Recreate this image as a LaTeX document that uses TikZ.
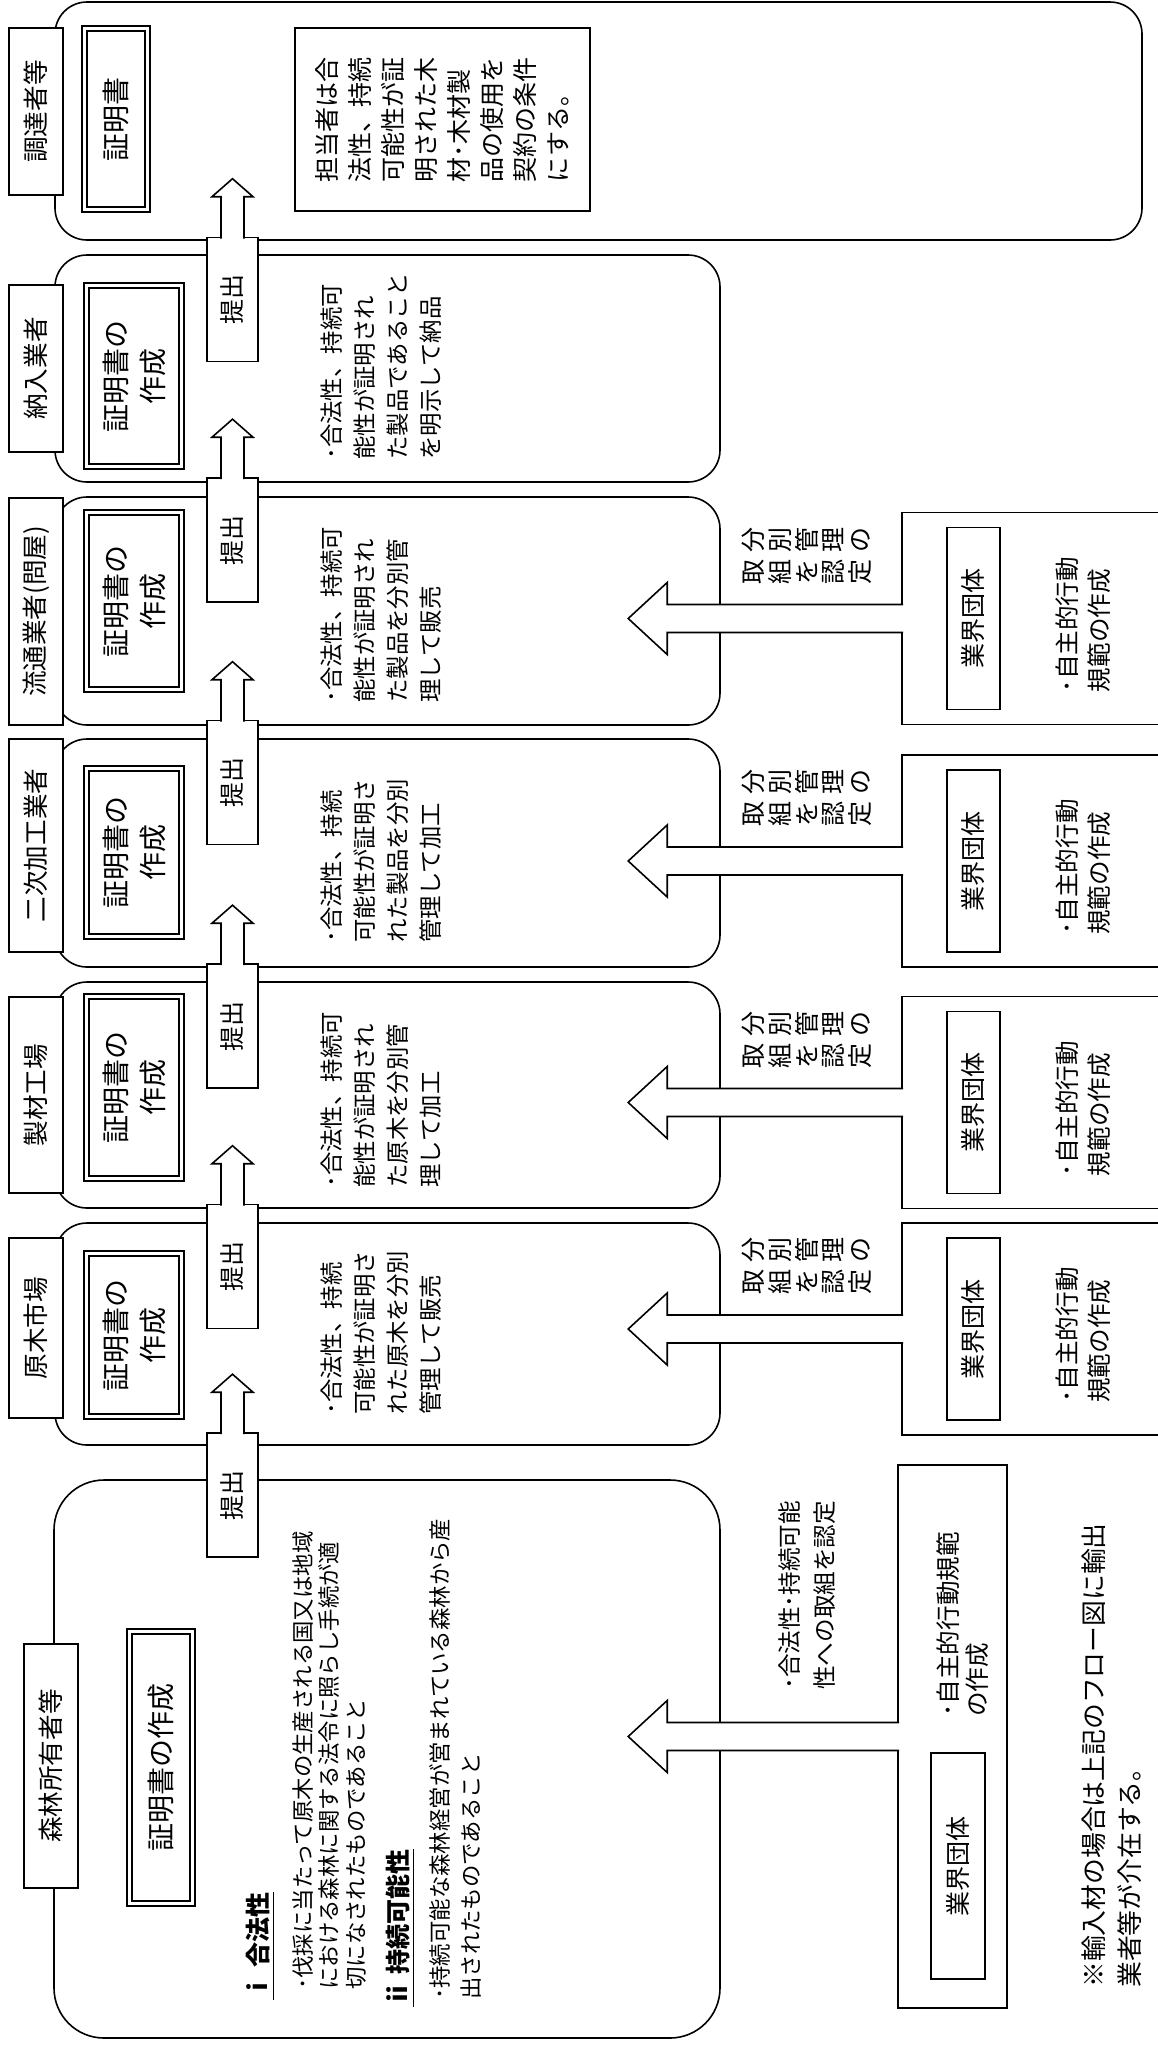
\documentclass[tikz,border=0pt]{standalone}
\usepackage{fontspec}
\setmainfont{Noto Sans CJK JP}
\usetikzlibrary{calc}
\newcommand{\fsz}[2]{\fontsize{#1}{#2}\selectfont}
\tikzset{
  rowbox/.style={draw, line width=0.8pt, rounded corners=16pt, inner sep=0pt},
  namebox/.style={draw, fill=white, line width=0.8pt, rotate=90, inner sep=0pt,
    minimum height=27pt, font=\fsz{12.8}{15}},
  certbox/.style={draw, fill=white, double, double distance=1.8pt, line width=0.9pt, rotate=90,
    inner sep=0pt, align=center, minimum height=47.5pt, font=\fsz{14}{18.5}},
  submitbox/.style={draw, fill=white, line width=0.8pt, rotate=90, inner sep=0pt,
    minimum width=62pt, minimum height=25.5pt, font=\fsz{12.5}{15}},
  grpframe/.style={draw, line width=0.8pt, inner sep=0pt},
  grpbox/.style={draw, fill=white, line width=0.8pt, rotate=90, inner sep=0pt,
    minimum width=91pt, minimum height=26.5pt, font=\fsz{12.5}{15}},
  vtext/.style={rotate=90, anchor=north west, align=left, inner sep=0pt},
  vchar/.style={rotate=90, inner sep=0pt, font=\fsz{12.5}{15}, text height=0.88em, text depth=0.12em},
  blockarrow/.style={draw, fill=white, line width=0.8pt, line join=miter},
}
\begin{document}
\begin{tikzpicture}[x=0.5pt, y=-0.5pt]
  \useasboundingbox (0,0) rectangle (1157,2046);

  % stages
  \node[rowbox, minimum width=543.5pt, minimum height=119pt] (r-chotatsu) at (598.5,121) {};
  \node[rowbox, minimum width=332.5pt, minimum height=113.5pt] (r-nonyu) at (387.5,368.5) {};
  \node[rowbox, minimum width=332.5pt, minimum height=114pt] (r-ryutsu) at (387.5,611) {};
  \node[rowbox, minimum width=332.5pt, minimum height=114pt] (r-niji) at (387.5,853) {};
  \node[rowbox, minimum width=332.5pt, minimum height=113pt] (r-seizai) at (387.5,1095) {};
  \node[rowbox, minimum width=332.5pt, minimum height=111pt] (r-genboku) at (387.5,1334) {};
  \node[rowbox, rounded corners=25pt, minimum width=333pt, minimum height=279pt] (r-shinrin) at (387,1759) {};

  % industry groups
  \node[grpframe, minimum width=135pt, minimum height=106pt] (g-ryutsu) at (1037,618.5) {};
  \node[grpframe, minimum width=135pt, minimum height=106pt] (g-niji) at (1037,861) {};
  \node[grpframe, minimum width=135pt, minimum height=106pt] (g-seizai) at (1037,1102.5) {};
  \node[grpframe, minimum width=135pt, minimum height=106pt] (g-genboku) at (1037,1329) {};
  \node[grpframe, minimum width=54.5pt, minimum height=271.5pt] (g-shinrin) at (952.5,1736.5) {};

  \node[grpbox] (k-ryutsu) at (973.5,618.5) {業界団体};
  \node[grpbox] (k-niji) at (973.5,861) {業界団体};
  \node[grpbox] (k-seizai) at (973.5,1102.5) {業界団体};
  \node[grpbox] (k-genboku) at (973.5,1329) {業界団体};
  \node[grpbox, minimum width=113pt, minimum height=27pt] (k-shinrin) at (958,1866) {業界団体};

  % stage names
  \node[namebox, minimum width=83.5pt] (l-chotatsu) at (36,111.5) {調達者等};
  \node[namebox, minimum width=83.5pt] (l-nonyu) at (36,368.5) {納入業者};
  \node[namebox, minimum width=113.5pt] (l-ryutsu) at (36,611.5) {流通業者(問屋)};
  \node[namebox, minimum width=106.5pt] (l-niji) at (36,845.5) {二次加工業者};
  \node[namebox, minimum width=98pt] (l-seizai) at (36,1095) {製材工場};
  \node[namebox, minimum width=90pt] (l-genboku) at (36,1328) {原木市場};
  \node[namebox, minimum width=122pt] (l-shinrin) at (51,1766) {森林所有者等};

  % certificates
  \node[certbox, minimum width=90.5pt, minimum height=31.5pt] (c-chotatsu) at (116,119) {証明書};
  \node[certbox, minimum width=90.5pt] (c-nonyu) at (134,376) {証明書の\\作成};
  \node[certbox, minimum width=88.5pt] (c-ryutsu) at (134,601) {証明書の\\作成};
  \node[certbox, minimum width=84pt] (c-niji) at (134,852.5) {証明書の\\作成};
  \node[certbox, minimum width=91pt] (c-seizai) at (134,1087.5) {証明書の\\作成};
  \node[certbox, minimum width=81.5pt] (c-genboku) at (134,1335) {証明書の\\作成};
  \node[certbox, minimum width=136pt, minimum height=31.5pt] (c-shinrin) at (161,1767.5) {証明書の作成};

  \node[draw, fill=white, line width=0.8pt, rotate=90, inner sep=0pt, minimum width=91.5pt,
    minimum height=147.5pt, align=left, font=\fsz{12.5}{16.5}] (memo) at (442.5,119.5)
    {担当者は合\\法性、持続\\可能性が証\\明された木\\材･木材製\\品の使用を\\契約の条件\\にする。};

  % submission
  \node[submitbox] (t-nonyu) at (232.5,299.5) {提出};
  \node[submitbox] (t-ryutsu) at (232.5,540) {提出};
  \node[submitbox] (t-niji) at (232.5,782.5) {提出};
  \node[submitbox] (t-seizai) at (232.5,1026) {提出};
  \node[submitbox] (t-genboku) at (232.5,1266.5) {提出};
  \node[submitbox] (t-shinrin) at (232.5,1495) {提出};

  \foreach \t in {t-nonyu,t-ryutsu,t-niji,t-seizai,t-genboku,t-shinrin}
    \draw[blockarrow] ([shift={(-5.75pt,-1pt)}]\t.east) -- ++(0,-42) -- ++(-9,0) -- ++(20.5,-18)
      -- ++(20.5,18) -- ++(-9,0) -- ++(0,42);

  \foreach \g/\len in {g-ryutsu/236,g-niji/236,g-seizai/236,g-genboku/236,g-shinrin/232}
    \draw[blockarrow] ([shift={(1pt,7pt)}]\g.west) -- ++(-\len,0) -- ++(0,-22) -- ++(-39,36)
      -- ++(39,36) -- ++(0,-22) -- ++(\len,0);

  % texts
  \node[vtext, font=\fsz{11.7}{16.5}] (x-nonyu) at (320,460)
    {･合法性、持続可\\能性が証明され\\た製品であること\\を明示して納品};
  \node[vtext, font=\fsz{11.7}{16.5}] (x-ryutsu) at (320,703)
    {･合法性、持続可\\能性が証明され\\た製品を分別管\\理して販売};
  \node[vtext, font=\fsz{11.7}{16.5}] (x-niji) at (320,943)
    {･合法性、持続\\可能性が証明さ\\れた製品を分別\\管理して加工};
  \node[vtext, font=\fsz{11.7}{16.5}] (x-seizai) at (320,1188)
    {･合法性、持続可\\能性が証明され\\た原木を分別管\\理して加工};
  \node[vtext, font=\fsz{11.7}{16.5}] (x-genboku) at (320,1415)
    {･合法性、持続\\可能性が証明さ\\れた原木を分別\\管理して販売};

  \node[vtext, font=\fsz{12.3}{16}] (y-ryutsu) at (1055,692.5) {･自主的行動\\規範の作成};
  \node[vtext, font=\fsz{12.3}{16}] (y-niji) at (1055,935) {･自主的行動\\規範の作成};
  \node[vtext, font=\fsz{12.3}{16}] (y-seizai) at (1055,1176.5) {･自主的行動\\規範の作成};
  \node[vtext, font=\fsz{12.3}{16}] (y-genboku) at (1055,1403) {･自主的行動\\規範の作成};

  \foreach \cy [count=\r] in {618.5,861,1102.5,1329}
    \foreach \a/\b [count=\k] in {分/取,別/組,管/を,理/認,の/定} {
      \node[vchar] (v\r-\k a) at ({728+26.8*\k},\cy-79) {\a};
      \node[vchar] (v\r-\k b) at ({728+26.8*\k},\cy-47) {\b};
    }

  \node[vtext, font=\bfseries\fsz{12.5}{15}] (h-legal) at (246,2000) {\underline{ⅰ\hspace{0.3em}合法性}};
  \node[vtext, font=\fsz{11.2}{13.25}] (x-legal) at (292,1990)
    {･伐採に当たって原木の生産される国又は地域\\における森林に関する法令に照らし手続が適\\切になされたものであること};
  \node[vtext, font=\bfseries\fsz{12.5}{15}] (h-sust) at (386,2007) {\underline{ⅱ\hspace{0.3em}持続可能性}};
  \node[vtext, font=\fsz{11.2}{15.5}] (x-sust) at (429,2000)
    {･持続可能な森林経営が営まれている森林から産\\出されたものであること};

  \node[vtext, font=\fsz{11.8}{17.5}] (x-shinrin) at (778,1690) {･合法性･持続可能\\性への取組を認定};
  \node[vtext, font=\fsz{12.3}{14.5}] (y-shinrin) at (936,1717) {･自主的行動規範\\の作成};
  \node[vtext, font=\fsz{12.9}{18}] (footnote) at (1081,1988)
    {※輸入材の場合は上記のフロー図に輸出\\業者等が介在する。};
\end{tikzpicture}
\end{document}
